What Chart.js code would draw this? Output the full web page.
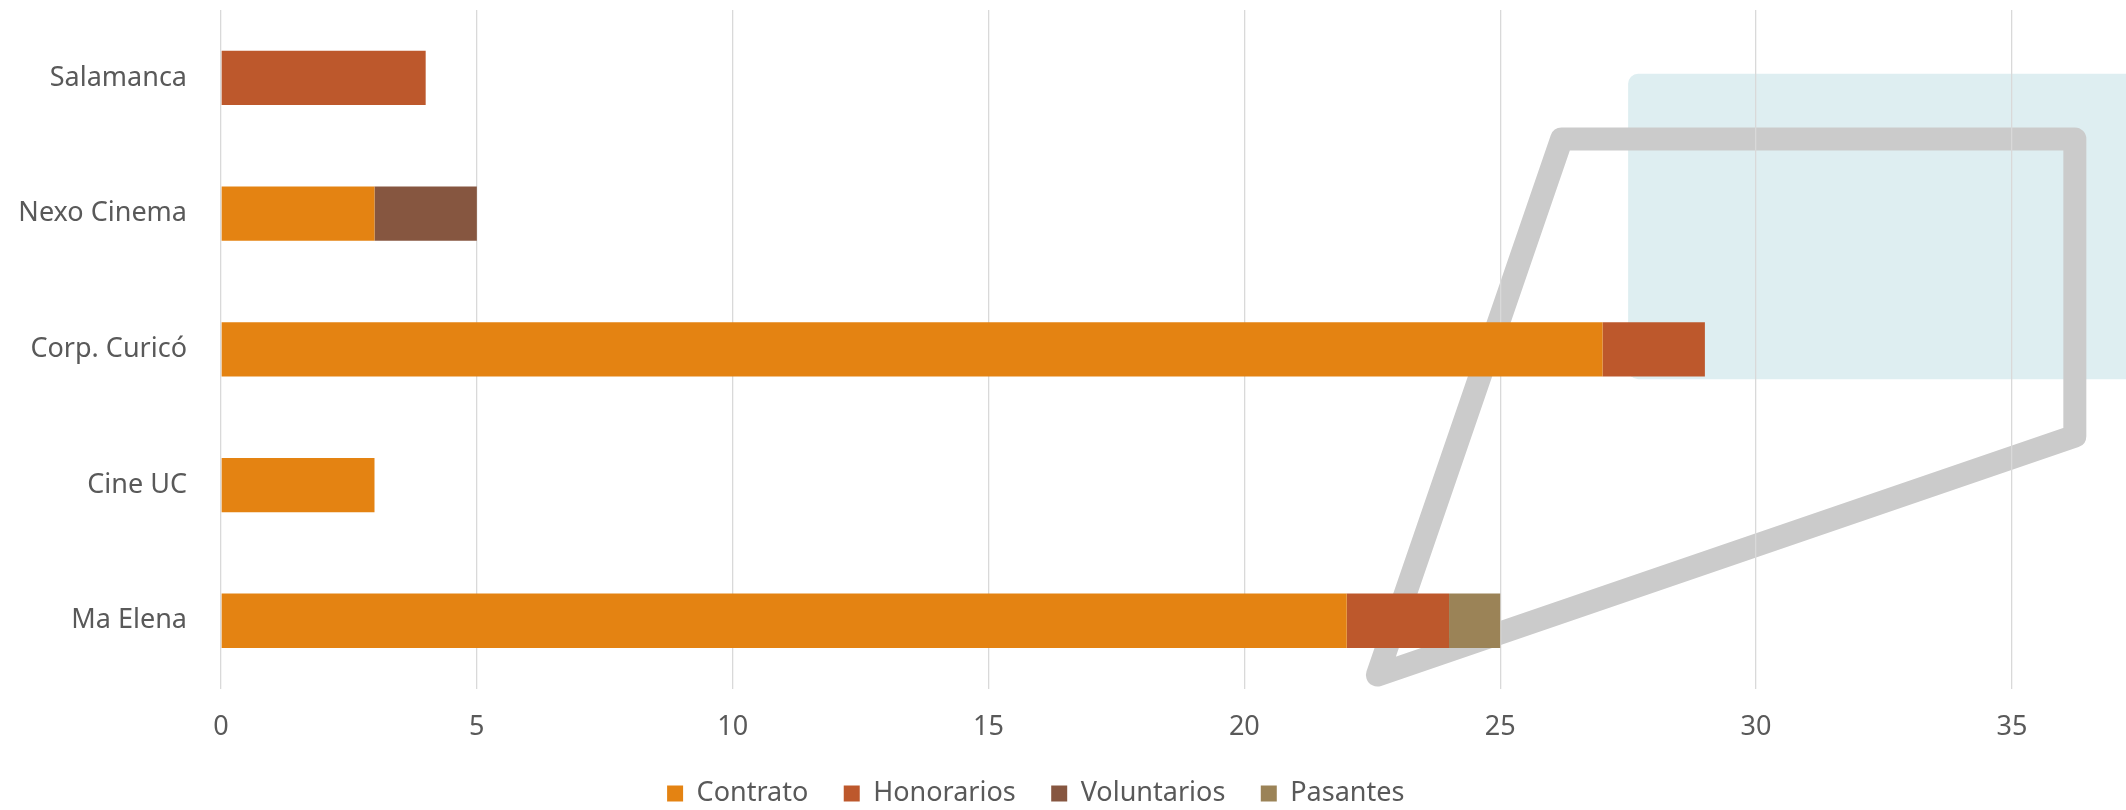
<!DOCTYPE html>
<html>
<head>
<meta charset="utf-8">
<script src="https://cdn.jsdelivr.net/npm/chart.js@4.4.1/dist/chart.umd.min.js"></script>
<style>
  html, body { margin: 0; background: #fff; }
  #wrap { width: 2126px; height: 810px; position: relative; }
</style>
</head>
<body>
<div id="wrap"><canvas id="c"></canvas></div>
<script>
const FONT = "'Noto Sans', sans-serif";
const INK = '#595959';

const categories = ['Salamanca', 'Nexo Cinema', 'Corp. Curicó', 'Cine UC', 'Ma Elena'];
const contrato = [null, 3, 27, 3, 22];
const honorarios = [4, null, 2, null, 2];
const voluntarios = [null, 2, null, null, null];
const pasantes = [null, null, null, null, 1];
const xTicks = [0, 5, 10, 15, 20, 25, 30, 35];

// pale panel + grey callout sitting behind the bars (data space: x value, category index)
const overlay = {
  id: 'overlay',
  beforeDraw(chart) {
    const { ctx, scales: { x, y } } = chart;
    ctx.save();
    const l = x.getPixelForValue(27.5), t = y.getPixelForValue(-0.03), b = y.getPixelForValue(2.22);
    ctx.fillStyle = '#deeef1';
    ctx.beginPath(); ctx.roundRect(l, t, chart.width - l + 30, b - t, 10); ctx.fill();

    const pts = [[26.2, 0.45], [36.23, 0.45], [36.23, 2.64], [22.6, 4.4]];
    ctx.strokeStyle = '#cbcbcb'; ctx.lineWidth = 23; ctx.lineJoin = 'round';
    ctx.beginPath();
    pts.forEach(([v, i], k) => {
      const px = x.getPixelForValue(v), py = y.getPixelForValue(i);
      k === 0 ? ctx.moveTo(px, py) : ctx.lineTo(px, py);
    });
    ctx.closePath(); ctx.stroke();
    ctx.restore();
  },
  afterLayout(chart) { // legend sits a little left of centre in the original
    const lg = chart.legend;
    if (lg) { lg.left -= 16; lg.right -= 16; lg.adjustHitBoxes(); }
  },
};

const ds = (label, data, color) => ({
  label, data, backgroundColor: color, borderWidth: 0,
  categoryPercentage: 0.4, barPercentage: 1,
});

new Chart(document.getElementById('c'), {
  type: 'bar',
  data: {
    labels: categories,
    datasets: [
      ds('Contrato', contrato, '#e48312'),
      ds('Honorarios', honorarios, '#bd582c'),
      ds('Voluntarios', voluntarios, '#865640'),
      ds('Pasantes', pasantes, '#9b8357'),
    ],
  },
  plugins: [overlay],
  options: {
    indexAxis: 'y',
    responsive: true, maintainAspectRatio: false, animation: false,
    layout: { padding: { top: 10, right: 0, left: 0, bottom: -7 } },
    plugins: {
      tooltip: { enabled: false },
      legend: {
        position: 'bottom',
        labels: {
          font: { family: FONT, size: 27 }, color: INK, boxWidth: 16, boxHeight: 16, padding: 13,
          // wider gaps between entries than the vertical padding allows
          generateLabels: (chart) => Chart.defaults.plugins.legend.labels.generateLabels(chart)
            .map((it) => ({ ...it, text: it.text + '\u2002\u2009\u2009' })),
        },
      },
    },
    scales: {
      x: {
        stacked: true, min: 0, max: 37.23,
        afterBuildTicks: (s) => { s.ticks = xTicks.map((v) => ({ value: v })); },
        ticks: { font: { family: FONT, size: 27 }, color: INK, padding: 23, maxRotation: 0, autoSkip: false },
        grid: { color: '#d9d9d9', lineWidth: 1.3, drawTicks: false },
        border: { display: false },
      },
      y: {
        stacked: true,
        afterFit: (s) => { s.width = 221; s.paddingTop = 0; s.paddingBottom = 0; },
        ticks: { font: { family: FONT, size: 27 }, color: INK, padding: 34 },
        grid: { display: false, drawTicks: false },
        border: { display: false },
      },
    },
  },
});
</script>
</body>
</html>
